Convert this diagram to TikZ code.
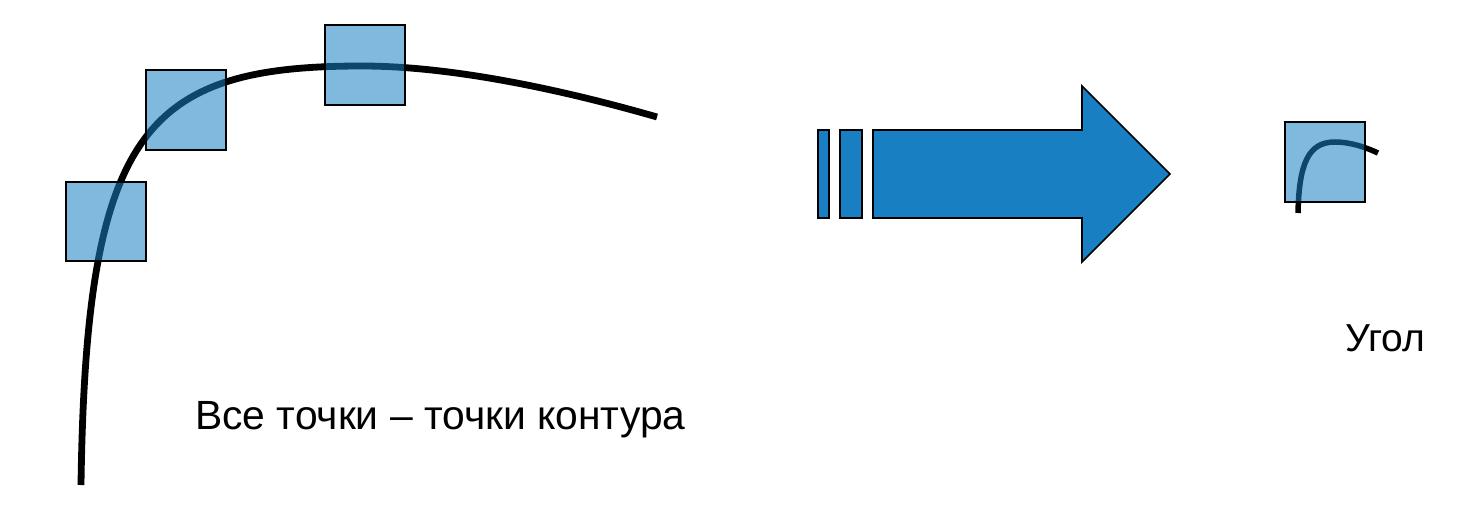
\documentclass[tikz,border=0pt]{standalone}
\usepackage{fontspec}
\setmainfont{Liberation Sans}
\definecolor{arrowblue}{RGB}{24,128,194}
\tikzset{
  contour/.style={line width=6.8pt, black},
  window/.style={draw=black, line width=1.6pt, fill=arrowblue, fill opacity=0.55, draw opacity=1},
  arrowpart/.style={draw=black, line width=1.6pt, fill=arrowblue, line join=miter},
  label/.style={inner sep=0pt, anchor=base west, font=\fontsize{40.8}{46}\selectfont}
}
\begin{document}
\begin{tikzpicture}[x=1pt, y=-1pt]
\useasboundingbox (0,0) rectangle (1464,514);
% main contour curve
\coordinate (c0) at (81,485);
\coordinate (c1) at (362,66);
\coordinate (c2) at (657,117);
\draw[contour] (c0) .. controls (86,130) and (145,66) .. (c1)
               .. controls (450,66) and (560,89) .. (c2);
% windows on the contour
\path[window] (66,182) rectangle (146,261);
\path[window] (146,70) rectangle (226,150);
\path[window] (325,25) rectangle (405,105);
% text
\node[label] (t1) at (195,429) {Все точки – точки контура};
% arrow with bars
\path[arrowpart] (818,130) rectangle (829,218);
\path[arrowpart] (840,130) rectangle (862,218);
\path[arrowpart] (873,130) -- (1082,130) -- (1082,86) -- (1170,174)
   -- (1082,262) -- (1082,218) -- (873,218) -- cycle;
% corner example
\coordinate (s0) at (1298,213);
\coordinate (s1) at (1335,142);
\coordinate (s2) at (1378,153);
\draw[line width=5.5pt, black] (s0) .. controls (1299,162) and (1309,142) .. (s1)
   .. controls (1350,142) and (1365,147) .. (s2);
\path[window] (1285,122) rectangle (1365,202);
\node[label, font=\fontsize{39}{44}\selectfont] (t2) at (1345,351) {Угол};
\end{tikzpicture}
\end{document}
